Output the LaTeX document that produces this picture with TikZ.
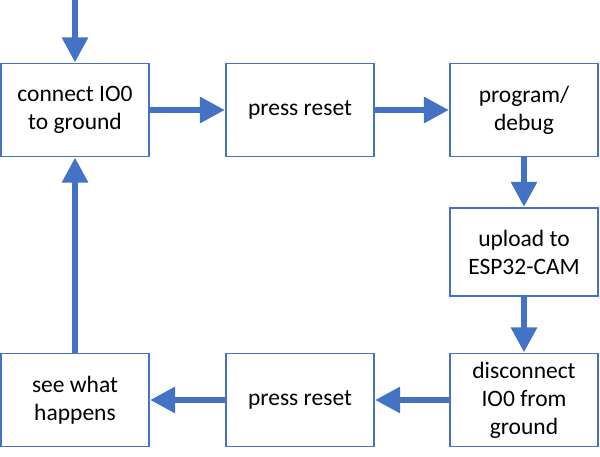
\documentclass[tikz,border=0pt]{standalone}
\usepackage{fontspec}
\setmainfont{Carlito}
\usetikzlibrary{arrows.meta}
\definecolor{blu}{RGB}{68,114,196}
\tikzset{
  box/.style={draw=blu, line width=1.2pt, fill=white, minimum width=148pt, minimum height=93pt,
    inner sep=0pt, align=center, font=\fontsize{23.5pt}{28pt}\selectfont, text=black},
  flow/.style={draw=blu, line width=6pt, -{Triangle[length=25pt,width=25pt]}, shorten >=0.5pt}
}
\begin{document}
\begin{tikzpicture}[x=1pt,y=-1pt]
\useasboundingbox (0,0) rectangle (600,457);
\node[box] (a) at (75,110) {connect IO0\\to ground};
\node[box] (b) at (300,110) {press reset};
\node[box] (c) at (524,110) {program/\\debug};
\node[box, minimum height=88pt] (d) at (524,252) {upload to\\ESP32-CAM};
\node[box] (e) at (524,400) {disconnect\\IO0 from\\ground};
\node[box] (f) at (300,400) {press reset};
\node[box] (g) at (75,400) {see what\\happens};
\coordinate (s) at (75,0);
\draw[flow] (s) -- (a.north);
\draw[flow] (a.east) -- (b.west);
\draw[flow] (b.east) -- (c.west);
\draw[flow] (c.south) -- (d.north);
\draw[flow] (d.south) -- (e.north);
\draw[flow] (e.west) -- (f.west -| f.east);
\draw[flow] (f.west) -- (g.east);
\draw[flow] (g.north) -- (a.south);
\end{tikzpicture}
\end{document}
